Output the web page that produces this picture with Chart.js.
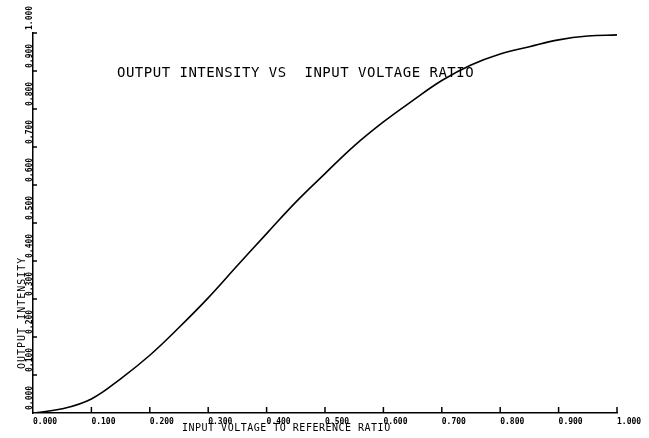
<!DOCTYPE html>
<html lang="en">
<head>
    <meta charset="UTF-8">
    <title>output intensity</title>
    <script src="https://cdn.jsdelivr.net/npm/chart.js@4.4.1/dist/chart.umd.min.js"></script>
    <style>
        body {
            margin: 0;
            padding: 0;
            background: #fff;
        }
        .plot {
            width: 649px;
            height: 438px;
        }
    </style>
</head>
<body>
    <div class="plot">
        <canvas id="intensityChart"></canvas>
    </div>

    <script>
        // values
        var ratio = [0, 0.05, 0.10, 0.15, 0.20, 0.25, 0.30, 0.35, 0.40, 0.45, 0.50,
                     0.55, 0.60, 0.65, 0.70, 0.75, 0.80, 0.85, 0.90, 0.95, 1.00];
        var intensity = [0, 0.011, 0.037, 0.090, 0.152, 0.225, 0.303, 0.388, 0.472, 0.555, 0.630,
                         0.703, 0.766, 0.822, 0.875, 0.916, 0.945, 0.964, 0.982, 0.992, 0.995];

        var chartTitle = 'OUTPUT INTENSITY VS  INPUT VOLTAGE RATIO';
        var xTitle = 'INPUT VOLTAGE TO REFERENCE RATIO';
        var yTitle = 'OUTPUT INTENSITY';

        var points = ratio.map(function (r, i) { return { x: r, y: intensity[i] }; });

        // inward tick marks, rotated y labels and the plotter lettering
        var plotterText = {
            id: 'plotterText',
            afterDraw: function (chart) {
                var ctx = chart.ctx;
                var xs = chart.scales.x;
                var ys = chart.scales.y;
                var area = chart.chartArea;
                ctx.save();
                ctx.strokeStyle = '#000';
                ctx.fillStyle = '#000';
                ctx.lineWidth = 1.5;

                xs.ticks.forEach(function (t) {
                    if (t.value === 0) return;
                    var px = xs.getPixelForValue(t.value);
                    ctx.beginPath();
                    ctx.moveTo(px, area.bottom);
                    ctx.lineTo(px, area.bottom - 6);
                    ctx.stroke();
                });

                ctx.font = 'bold 8px "DejaVu Sans Mono"';
                ctx.textAlign = 'left';
                ctx.textBaseline = 'alphabetic';
                ys.ticks.forEach(function (t) {
                    var py = ys.getPixelForValue(t.value);
                    if (t.value !== 0) {
                        ctx.beginPath();
                        ctx.moveTo(area.left, py);
                        ctx.lineTo(area.left + 4, py);
                        ctx.stroke();
                    }
                    ctx.save();
                    ctx.translate(32, py - 3);
                    ctx.rotate(-Math.PI / 2);
                    ctx.fillText(t.value.toFixed(3), 0, 0);
                    ctx.restore();
                });

                ctx.font = '14px "DejaVu Sans Mono"';
                ctx.letterSpacing = '0.5px';
                ctx.fillText(chartTitle, 117, 77);

                ctx.font = '10px "DejaVu Sans Mono"';
                ctx.letterSpacing = '0.5px';
                ctx.fillText(xTitle, 182, 431);

                ctx.save();
                ctx.translate(25, 369);
                ctx.rotate(-Math.PI / 2);
                ctx.letterSpacing = '1px';
                ctx.fillText(yTitle, 0, 0);
                ctx.restore();

                ctx.restore();
            }
        };

        var ctx = document.getElementById('intensityChart').getContext('2d');
        var intensityChart = new Chart(ctx, {
            type: 'line',
            data: {
                datasets: [{
                    data: points,
                    borderColor: '#000',
                    borderWidth: 1.6,
                    pointRadius: 0,
                    fill: false,
                    tension: 0.4
                }]
            },
            options: {
                responsive: true,
                maintainAspectRatio: false,
                animation: false,
                layout: {
                    padding: { left: 0, right: 32, top: 33, bottom: 0 }
                },
                plugins: {
                    legend: { display: false },
                    tooltip: { enabled: false }
                },
                scales: {
                    x: {
                        type: 'linear',
                        min: 0,
                        max: 1,
                        grid: { display: false, drawTicks: false },
                        border: { display: true, color: '#000', width: 1.5 },
                        ticks: {
                            stepSize: 0.1,
                            autoSkip: false,
                            maxRotation: 0,
                            align: 'start',
                            padding: 4,
                            color: '#000',
                            font: { family: 'DejaVu Sans Mono', size: 8, weight: 'bold' },
                            callback: function (v) { return v.toFixed(3); }
                        },
                        afterFit: function (scale) { scale.height = 25; }
                    },
                    y: {
                        type: 'linear',
                        min: 0,
                        max: 1,
                        grid: { display: false, drawTicks: false },
                        border: { display: true, color: '#000', width: 1.5 },
                        ticks: {
                            stepSize: 0.1,
                            display: false
                        },
                        afterFit: function (scale) { scale.width = 33; }
                    }
                }
            },
            plugins: [plotterText]
        });
    </script>
</body>
</html>
